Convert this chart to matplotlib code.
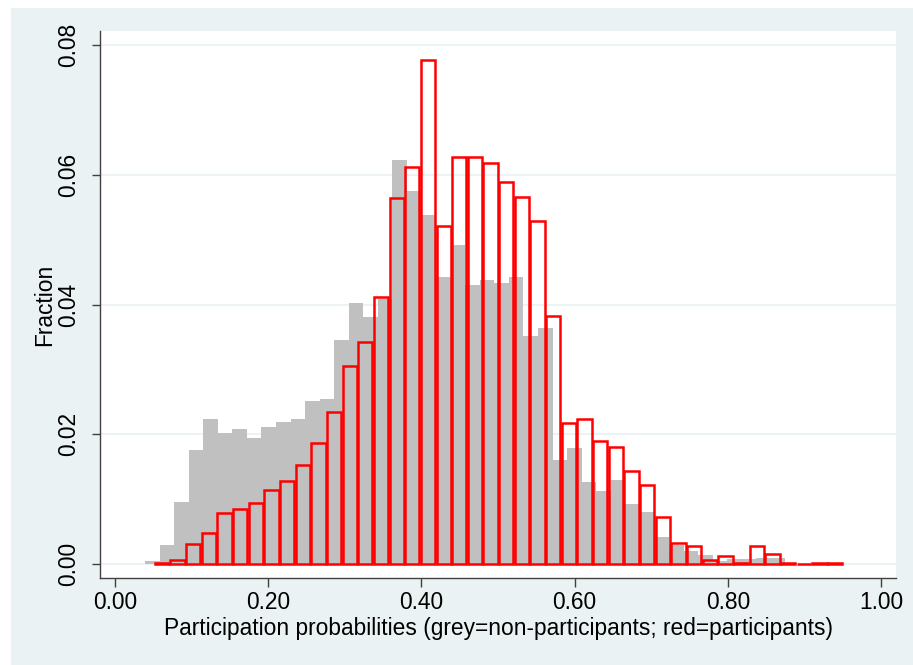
import numpy as np
import matplotlib.pyplot as plt
from matplotlib.patches import Rectangle

plt.rcParams['font.family'] = ['Liberation Sans', 'DejaVu Sans']

# histogram of non-participants (grey), fraction per bin
grey_start = 0.0392
grey_width = 0.0190
grey_frac = [0.0004, 0.0029, 0.0096, 0.0176, 0.0224, 0.0202, 0.0208, 0.0194,
             0.0212, 0.0219, 0.0224, 0.0252, 0.0254, 0.0346, 0.0402, 0.0381,
             0.0408, 0.0623, 0.0576, 0.0538, 0.0443, 0.0492, 0.0430, 0.0438,
             0.0434, 0.0443, 0.0352, 0.0364, 0.0160, 0.0179, 0.0126, 0.0113,
             0.0129, 0.0092, 0.0080, 0.0042, 0.0030, 0.0020, 0.0014, 0.0005,
             0.0008, 0.0008, 0.0009, 0.0009]

# histogram of participants (red outline)
red_start = 0.0509
red_width = 0.02044
red_frac = [0.0002, 0.0006, 0.0031, 0.0048, 0.0079, 0.0085, 0.0094, 0.0114,
            0.0128, 0.0153, 0.0187, 0.0235, 0.0306, 0.0342, 0.0411, 0.0564,
            0.0612, 0.0777, 0.0521, 0.0627, 0.0627, 0.0619, 0.0589, 0.0566,
            0.0529, 0.0383, 0.0218, 0.0224, 0.0189, 0.0181, 0.0143, 0.0122,
            0.0073, 0.0033, 0.0027, 0.0006, 0.0012, 0.0001, 0.0028, 0.0015,
            0.0001, 0.0000, 0.0002, 0.0001]

xticks = [0.0, 0.2, 0.4, 0.6, 0.8, 1.0]
yticks = [0.0, 0.02, 0.04, 0.06, 0.08]

bg = '#EAF2F3'

fig = plt.figure(figsize=(9.13, 6.65), dpi=100, facecolor='white')
fig.patches.append(Rectangle((11 / 913, 0), 1 - 11 / 913, 657 / 665,
                             transform=fig.transFigure, facecolor=bg,
                             edgecolor='none', zorder=-10))
ax = fig.add_axes([100 / 913, 87 / 665, 796 / 913, 547 / 665])
ax.set_facecolor('white')

g_x = grey_start + grey_width * np.arange(len(grey_frac))
ax.bar(g_x, grey_frac, width=grey_width, align='edge', color='#C0C0C0',
       edgecolor='none', zorder=2)

r_x = red_start + red_width * (np.arange(len(red_frac)) + 0.5)
ax.bar(r_x, red_frac, width=red_width * 0.91, fill=False, edgecolor='#FF0000',
       linewidth=1.8, zorder=3)

ax.set_xlim(-0.0196, 1.0196)
ax.set_ylim(-0.00216, 0.0822)
ax.set_xticks(xticks)
ax.set_xticklabels(['%.2f' % v for v in xticks], fontsize=16.4)
ax.set_yticks(yticks)
ax.set_yticklabels(['%.2f' % v for v in yticks], fontsize=16.4, rotation=90,
                   va='center')
ax.yaxis.grid(True, color=bg, linewidth=1.3, zorder=0)
ax.set_axisbelow(True)

for s in ['top', 'right']:
    ax.spines[s].set_visible(False)
for s in ['left', 'bottom']:
    ax.spines[s].set_color('#404040')
    ax.spines[s].set_linewidth(1.0)
ax.tick_params(axis='x', length=6.5, width=1.0, color='#404040', pad=3)
ax.tick_params(axis='y', length=6, width=1.0, color='#404040', pad=8)

ax.set_xlabel('Participation probabilities (grey=non-participants; red=participants)',
              fontsize=16.4, labelpad=2)
ax.set_ylabel('Fraction', fontsize=16.4, labelpad=1)

fig.savefig('out.png', dpi=100, facecolor='white')
